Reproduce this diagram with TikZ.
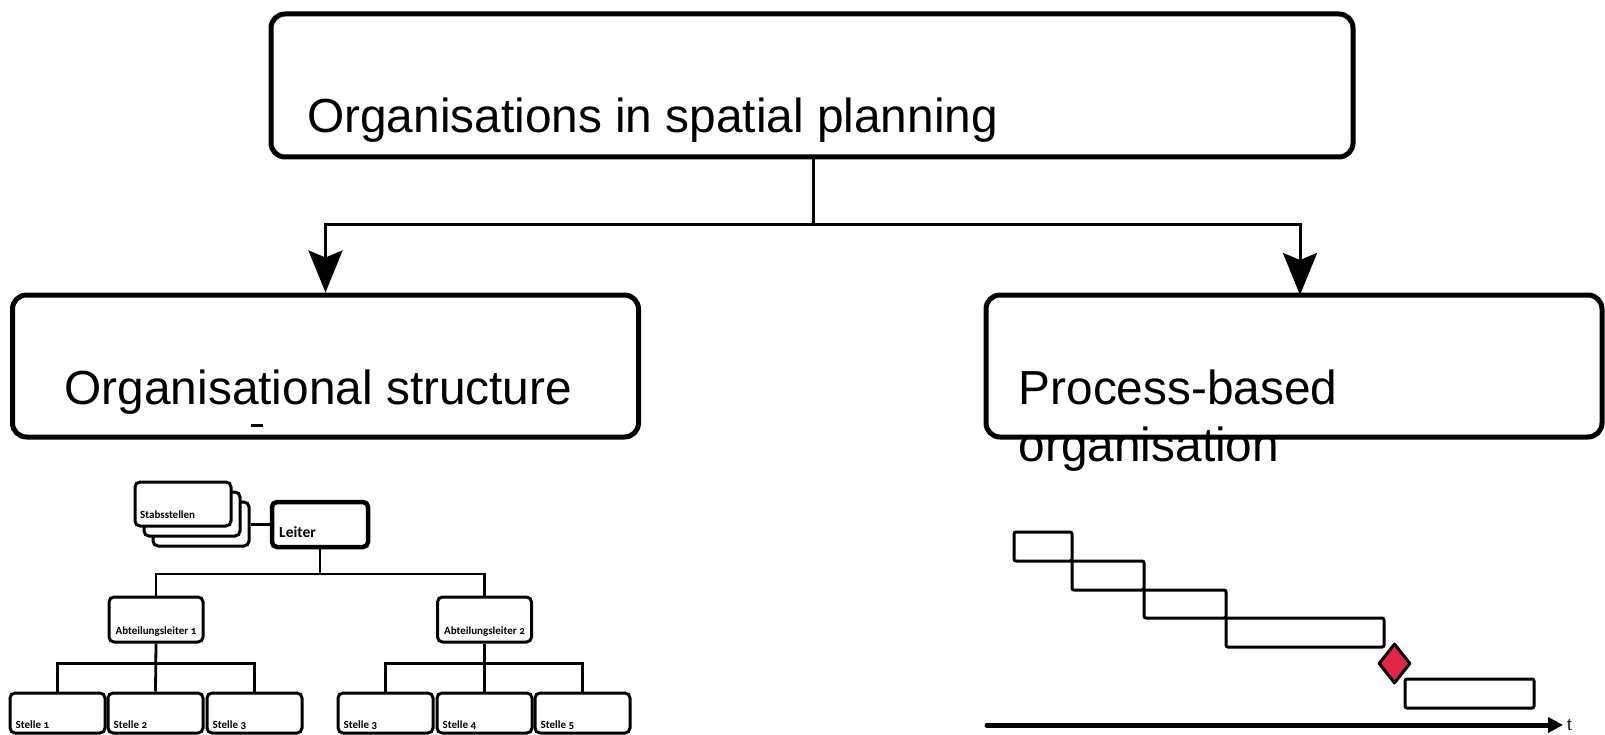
\documentclass[tikz,border=0pt]{standalone}
\usepackage{fontspec}
\setmainfont{Liberation Sans}
\newfontfamily\orgfont[Numbers=OldStyle]{Carlito}
\usetikzlibrary{arrows.meta,shapes.geometric}
\definecolor{milestone}{RGB}{226,38,72}
\tikzset{
  bigbox/.style={draw, line width=5pt, rounded corners=14pt, inner sep=0pt},
  bigtext/.style={font=\fontsize{47.8}{57}\selectfont, inner sep=0pt, align=left},
  mainlink/.style={line width=3pt},
  mainarrow/.style={mainlink, -{Stealth[length=42pt, width=34pt, inset=7pt]}},
  orgbox/.style={draw, fill=white, line width=3pt, rounded corners=5pt, inner sep=0pt},
  bossbox/.style={orgbox, line width=4.5pt},
  orglink/.style={line width=2.8pt},
  orgtext/.style={font=\orgfont\bfseries\fontsize{11}{13}\selectfont, inner sep=0pt},
  bosstext/.style={font=\orgfont\bfseries\fontsize{15.5}{18}\selectfont, inner sep=0pt},
  stelle/.style={orgbox, minimum width=95pt, minimum height=40pt},
  abt/.style={orgbox, minimum width=94pt, minimum height=45pt},
  ganttbox/.style={draw, line width=3pt, rounded corners=2pt, inner sep=0pt, minimum height=29pt},
}
\begin{document}
\begin{tikzpicture}[x=1pt, y=-1pt]
\useasboundingbox (0,0) rectangle (1605,735);

% ---- top level and the two branches ----
\node[bigbox, minimum width=1082pt, minimum height=143pt] (top) at (812,85.5) {};
\node[bigtext, anchor=base west] (toptext) at (307,133) {Organisations in spatial planning};

\node[bigbox, minimum width=626pt, minimum height=142pt] (orgs) at (325.5,366) {};
\node[bigtext, anchor=base west] (orgstext) at (64.5,404) {Organisational structure};
\draw[line width=3pt] (251,425) -- (263,425);

% the label runs past the frame, which is drawn over it
\node[bigtext, anchor=base west] (proctext) at (1018.5,461) {Process-based\\organisation};
\node[bigbox, minimum width=616pt, minimum height=142pt] (proc) at (1294,366) {};

\coordinate (split) at (813.8,225);
\coordinate (procin) at (1300,295);
\draw[mainlink] (top.south -| split) -- (split);
\draw[mainarrow] (split) -| (orgs.north);
\draw[mainarrow] (split) -| (procin);

% ---- organisational chart ----
\node[orgbox, minimum width=96pt, minimum height=44pt] (stab3) at (201,524) {};
\node[orgbox, minimum width=96pt, minimum height=44pt] (stab2) at (192,514) {};
\node[orgbox, minimum width=96pt, minimum height=44pt] (stab1) at (183,504) {};
\node[orgtext, anchor=base west] (stabtext) at (140,518) {Stabsstellen};

\node[bossbox, minimum width=96pt, minimum height=45pt] (leiter) at (320,524.5) {};
\node[bosstext, anchor=base west] (leitertext) at (279,537) {Leiter};
\draw[orglink] (stab3.east |- leiter.west) -- (leiter.west);

\coordinate (lvl1) at (0,574);
\coordinate (lvl2) at (0,663.3);

\node[abt] (abt1) at (156,619.5) {};
\node[abt] (abt2) at (484.5,619.5) {};
\node[orgtext, anchor=base] (abt1text) at ([yshift=9pt]abt1.south) {Abteilungsleiter 1};
\node[orgtext, anchor=base] (abt2text) at ([yshift=9pt]abt2.south) {Abteilungsleiter 2};
\draw[orglink] (leiter.south) -- (leiter.south |- lvl1);
\draw[orglink] (abt1.north) |- (lvl1 -| abt2.north) -- (abt2.north);

\node[stelle] (s1) at (57.5,713) {};
\node[stelle] (s2) at (155.5,713) {};
\node[stelle] (s3) at (254.5,713) {};
\node[stelle] (s4) at (385.5,713) {};
\node[stelle] (s5) at (484.5,713) {};
\node[stelle] (s6) at (582.5,713) {};
\foreach \b/\t in {s1/Stelle 1, s2/Stelle 2, s3/Stelle 3, s4/Stelle 3, s5/Stelle 4, s6/Stelle 5}
  \node[orgtext, anchor=base west] (\b text) at ([xshift=7pt, yshift=6pt]\b.south west) {\t};

\draw[orglink] (abt1.south) -- (s2.north);
\draw[orglink] (s1.north) |- (lvl2 -| s3.north) -- (s3.north);
\draw[orglink] (abt2.south) -- (s5.north);
\draw[orglink] (s4.north) |- (lvl2 -| s6.north) -- (s6.north);

% ---- process schedule ----
\node[ganttbox, minimum width=58pt] (g1) at (1043,546.5) {};
\node[ganttbox, minimum width=72pt] (g2) at (1108,575.5) {};
\node[ganttbox, minimum width=82pt, minimum height=28pt] (g3) at (1185,604) {};
\node[ganttbox, minimum width=158pt] (g4) at (1305,632.5) {};
\node[diamond, draw, fill=milestone, line width=3pt, inner sep=0pt,
      minimum width=32pt, minimum height=40pt, line join=round] (ms) at (1394.5,663.5) {};
\node[ganttbox, minimum width=129pt] (g5) at (1469.5,693.5) {};

\node[font=\fontsize{17}{20}\selectfont, inner sep=0pt, anchor=base west] (tlab) at (1567,730) {t};
\coordinate (t0) at (987,725);
\draw[line width=5pt, line cap=round, -{Triangle[length=15pt, width=15pt]}] (t0) -- ([xshift=-4pt]t0 -| tlab.west);
\end{tikzpicture}
\end{document}
